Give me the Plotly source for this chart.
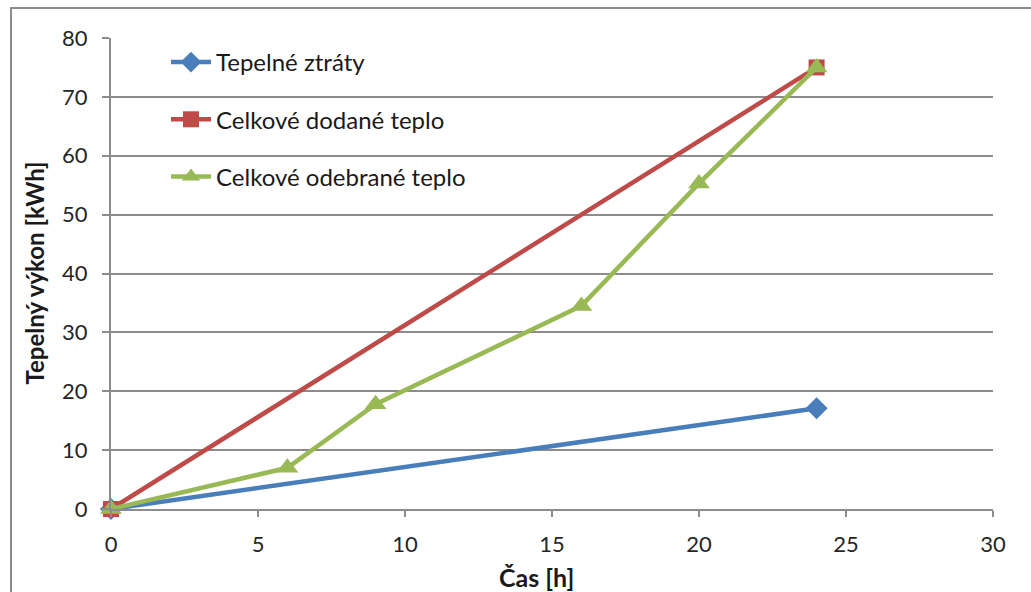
import plotly.graph_objects as go

# Data
x_ztraty = [0, 24]
y_ztraty = [0, 17.1]
x_dodane = [0, 24]
y_dodane = [0, 75]
x_odebrane = [0, 6, 9, 16, 20, 24]
y_odebrane = [0, 7.0, 17.8, 34.5, 55.3, 75]

names = ["Tepelné ztráty", "Celkové dodané teplo", "Celkové odebrané teplo"]
colors = ["#4A7EBB", "#BE4B48", "#98B954"]
x_title = "Čas [h]"
y_title = "Tepelný výkon [kWh]"

FONT = "Lato"
W, H = 1031, 592
L, R, T, B = 111, 38, 38, 83

fig = go.Figure()
fig.add_trace(go.Scatter(x=x_ztraty, y=y_ztraty, name=names[0], mode="lines+markers",
                         line=dict(color=colors[0], width=4.5),
                         marker=dict(symbol="diamond", size=17, color=colors[0]),
                         legendgroup="a", cliponaxis=False))
fig.add_trace(go.Scatter(x=x_dodane, y=y_dodane, name=names[1], mode="lines+markers",
                         line=dict(color=colors[1], width=4.5),
                         marker=dict(symbol="square", size=16, color=colors[1]),
                         legendgroup="b", cliponaxis=False))
fig.add_trace(go.Scatter(x=x_odebrane, y=y_odebrane, name=names[2], mode="lines+markers",
                         line=dict(color=colors[2], width=4.5),
                         marker=dict(symbol="triangle-up", size=19, color=colors[2]),
                         legendgroup="c", cliponaxis=False))

pw = W - L - R
ph = H - T - B
fig.add_shape(type="rect", xref="paper", yref="paper",
              x0=(11 - L) / pw, x1=(W + 20 - L) / pw,
              y0=-(H + 20 - (H - B)) / ph, y1=((H - B) - 8) / ph,
              line=dict(color="#8C8C8C", width=2), fillcolor="rgba(0,0,0,0)", layer="below")

# axis titles as annotations for exact placement
fig.add_annotation(text="<b>" + x_title + "</b>", xref="paper", yref="paper",
                   x=(536 - L) / pw, y=-(577 - (H - B)) / ph, showarrow=False,
                   xanchor="center", yanchor="middle",
                   font=dict(family=FONT, size=25, color="#1a1a1a"))
fig.add_annotation(text="<b>" + y_title + "</b>", xref="paper", yref="paper",
                   x=(34 - L) / pw, y=0.5, showarrow=False, textangle=-90,
                   xanchor="center", yanchor="middle",
                   font=dict(family=FONT, size=24, color="#1a1a1a"))

fig.update_layout(
    width=W, height=H,
    margin=dict(l=L, r=R, t=T, b=B, autoexpand=False),
    paper_bgcolor="white", plot_bgcolor="white",
    font=dict(family=FONT, size=22, color="#262626"),
    showlegend=True,
    legend=dict(x=(166 - L) / pw, y=1 - (40 - T) / ph, xanchor="left", yanchor="top",
                bgcolor="rgba(0,0,0,0)", font=dict(family=FONT, size=24, color="#1a1a1a"),
                tracegroupgap=23, itemwidth=40, traceorder="grouped"),
    xaxis=dict(range=[0, 30], dtick=5, showgrid=False, zeroline=False,
               showline=True, linecolor="#8C8C8C", linewidth=2,
               ticks="outside", ticklen=6, tickcolor="#8C8C8C", tickwidth=2,
               ticklabelstandoff=9, automargin=False),
    yaxis=dict(range=[0, 80], dtick=10, showgrid=True, gridcolor="#8C8C8C", gridwidth=2,
               zeroline=False, showline=True, linecolor="#8C8C8C", linewidth=2,
               ticks="outside", ticklen=7, tickcolor="#8C8C8C", tickwidth=2,
               ticklabelstandoff=10, automargin=False),
)

fig.write_html("out.html")
